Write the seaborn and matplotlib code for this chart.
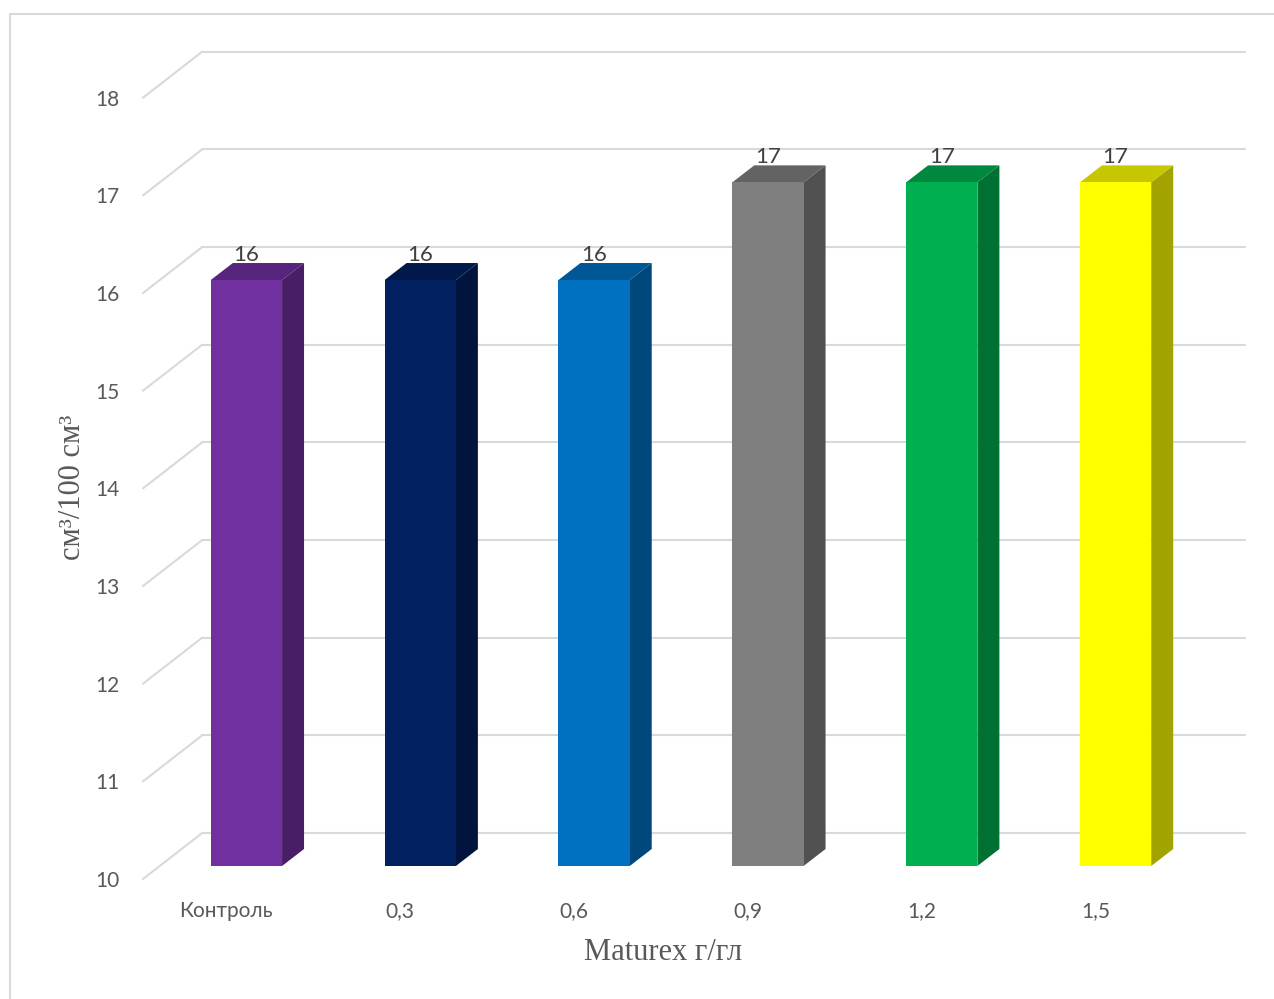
import numpy as np
import pandas as pd
import seaborn as sns
import matplotlib
matplotlib.use("Agg")
import matplotlib.pyplot as plt
from matplotlib.patches import Polygon
from matplotlib.lines import Line2D
from matplotlib.transforms import ScaledTranslation
from matplotlib.colors import to_rgb

# --- data -------------------------------------------------------------
categories = ["Контроль", "0,3", "0,6", "0,9", "1,2", "1,5"]
values = [16, 16, 16, 17, 17, 17]
y_ticks = [10, 11, 12, 13, 14, 15, 16, 17, 18]
front_colors = ["#7030A0", "#002060", "#0070C0", "#7F7F7F", "#00B050", "#FFFF00"]
y_label = "см³/100 см³"
x_label = "Maturex г/гл"

sns.set_theme(style="white")
plt.rcParams["font.family"] = ["Lato", "DejaVu Sans"]

W, H = 1274, 999
fig = plt.figure(figsize=(W / 100, H / 100), dpi=100)

# front plane of the bars, in pixel units
left_px, right_px, top_px, bottom_px = 159.5, 1202.5, 84.7, 866.0
ax = fig.add_axes([left_px / W, 1 - bottom_px / H,
                   (right_px - left_px) / W, (bottom_px - top_px) / H])

df = pd.DataFrame({"cat": categories, "val": values})
sns.barplot(data=df, x="cat", y="val", hue="cat", palette=front_colors,
            width=0.41, saturation=1, legend=False, ax=ax, zorder=3,
            edgecolor="none", linewidth=0)

ymin, ymax = y_ticks[0], y_ticks[-1]
ax.set_xlim(-0.5, len(categories) - 0.5)
ax.set_ylim(ymin, ymax)
for s in ax.spines.values():
    s.set_visible(False)
ax.set_xlabel("")
ax.set_ylabel("")

# pixel -> data conversion
px_x = (right_px - left_px) / (len(categories))
px_y = (bottom_px - top_px) / (ymax - ymin)

def to_data(dx_px, dy_px):
    return dx_px / px_x, dy_px / px_y

bar_dx, bar_dy = to_data(22, 17)       # bar depth
back_dx, back_dy = to_data(42.7, 33)   # back wall
front_dx, front_dy = to_data(-16.5, -13)  # front edge of the side wall

grid_color = "#D9D9D9"
x0, x1 = -0.5, len(categories) - 0.5
for t in y_ticks:
    # back wall gridline
    ax.add_line(Line2D([x0 + back_dx, x1 + back_dx], [t + back_dy, t + back_dy],
                       color=grid_color, lw=1.5, zorder=1, clip_on=False))
    # side wall diagonal
    ax.add_line(Line2D([x0 + front_dx, x0 + back_dx], [t + front_dy, t + back_dy],
                       color=grid_color, lw=1.5, zorder=1, clip_on=False))

def shade(c, f):
    r, g, b = to_rgb(c)
    return (r * f, g * f, b * f)

# side and top faces of the bars
for patch, col in zip(ax.patches, front_colors):
    xl = patch.get_x()
    xr = xl + patch.get_width()
    top = patch.get_y() + patch.get_height()
    base = max(patch.get_y(), ymin)
    side = Polygon([(xr, base), (xr + bar_dx, base + bar_dy),
                    (xr + bar_dx, top + bar_dy), (xr, top)],
                   closed=True, facecolor=shade(col, 0.64), edgecolor="none",
                   zorder=2.9, clip_on=False)
    cap = Polygon([(xl, top), (xl + bar_dx, top + bar_dy),
                   (xr + bar_dx, top + bar_dy), (xr, top)],
                  closed=True, facecolor=shade(col, 0.78), edgecolor="none",
                  zorder=2.9, clip_on=False)
    ax.add_patch(side)
    ax.add_patch(cap)

for c in ax.containers:
    ax.bar_label(c, fmt="%g", padding=11, color="#404040", fontsize=16)

# tick labels sit on the front edge of the floor / side wall
ax.set_yticks(y_ticks)
ax.set_yticklabels([str(t) for t in y_ticks])
ax.tick_params(axis="both", length=0, labelsize=15, labelcolor="#595959")
ax.tick_params(axis="y", pad=17)
ax.tick_params(axis="x", pad=16)
shift_y = ScaledTranslation(-16.5 / 100, -13 / 100, fig.dpi_scale_trans)
shift_x = ScaledTranslation(-20 / 100, -13 / 100, fig.dpi_scale_trans)
for lab in ax.get_yticklabels():
    lab.set_transform(lab.get_transform() + shift_y)
for lab in ax.get_xticklabels():
    lab.set_transform(lab.get_transform() + shift_x)

serif = ["Liberation Serif", "DejaVu Serif"]
fig.text(72 / W, 1 - 487 / H, y_label, rotation=90, ha="center", va="center",
         fontsize=22, color="#595959", family=serif)
fig.text(663 / W, 1 - 953 / H, x_label, ha="center", va="center",
         fontsize=22, color="#595959", family=serif)

# chart area border (top and left edges)
fig.add_artist(Line2D([10 / W, 1], [1 - 14 / H, 1 - 14 / H],
                      transform=fig.transFigure, color=grid_color, lw=1.5))
fig.add_artist(Line2D([10 / W, 10 / W], [1 - 14 / H, 0],
                      transform=fig.transFigure, color=grid_color, lw=1.5))

fig.savefig("out.png", dpi=100)
